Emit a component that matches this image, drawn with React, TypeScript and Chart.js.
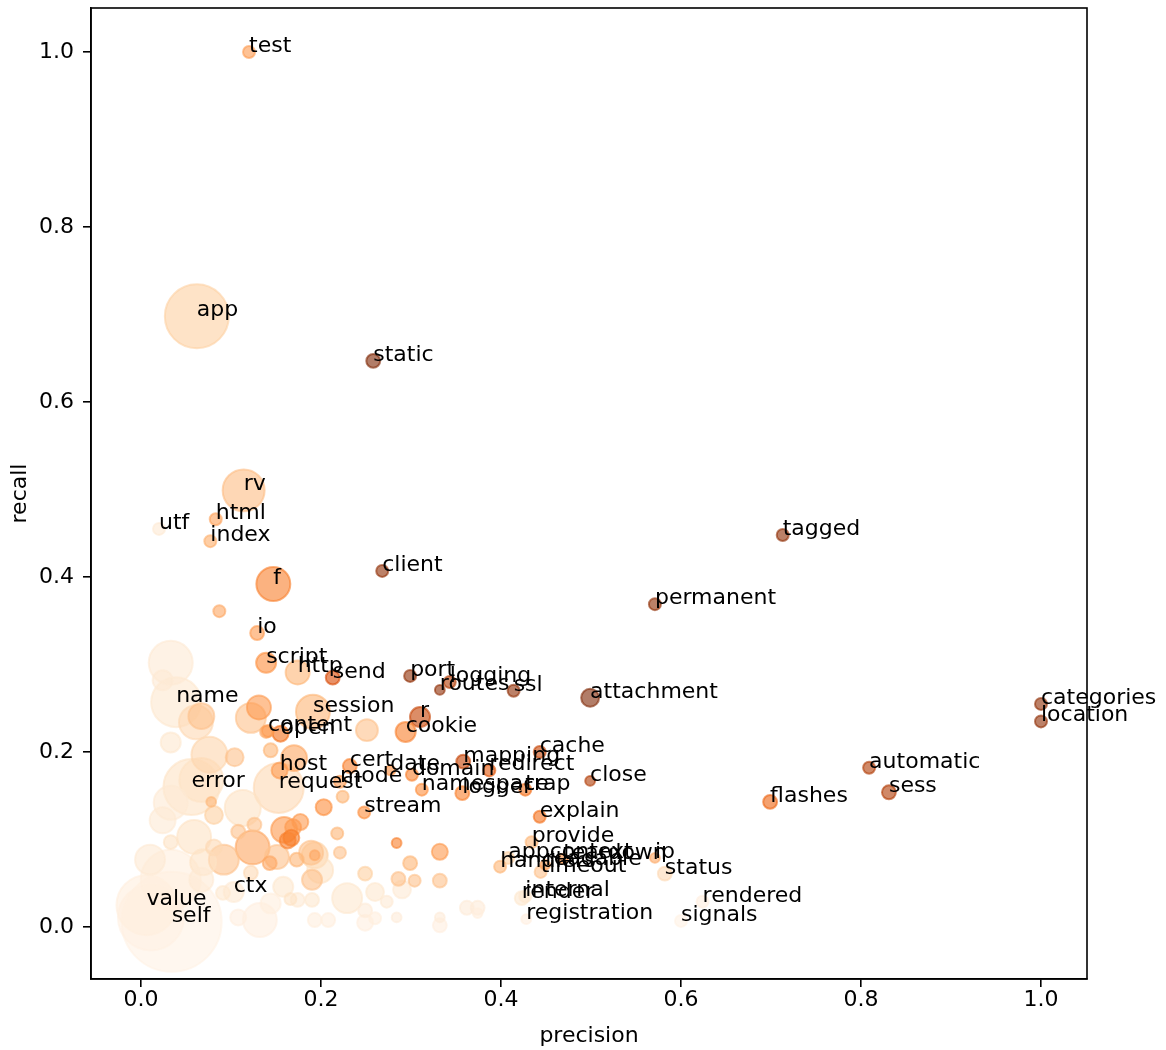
import React, { useEffect, useRef } from "react";
import { Chart, registerables, BubbleController } from "chart.js";

Chart.register(...registerables);
// keep the plot frame where the reference puts it (no automatic padding for big bubbles)
(BubbleController.prototype as any).getMaxOverflow = () => 0;

// ---- labelled words ----
const words = [
  "test", "app", "static", "rv", "utf", "html", "index", "f", "client", "io",
  "tagged", "permanent", "attachment", "categories", "location", "automatic", "sess", "flashes", "close", "cache",
  "mapping", "redirect", "trap", "logger", "namespace", "domain", "date", "cert", "mode", "host",
  "request", "error", "name", "script", "http", "send", "port", "logging", "routes", "ssl",
  "session", "content", "open", "r", "cookie", "stream", "explain", "provide", "appcontext", "handlers",
  "teardown", "readable", "ip", "timeout", "status", "render", "internal", "registration", "rendered", "signals",
  "ctx", "value", "self",
];
const wordPrecision = [
  0.120, 0.062, 0.258, 0.114, 0.020, 0.083, 0.077, 0.147, 0.268, 0.129,
  0.713, 0.571, 0.499, 1.0, 1.0, 0.809, 0.831, 0.699, 0.499, 0.443,
  0.358, 0.387, 0.427, 0.357, 0.312, 0.301, 0.277, 0.232, 0.221, 0.154,
  0.153, 0.056, 0.039, 0.139, 0.174, 0.213, 0.299, 0.343, 0.332, 0.414,
  0.191, 0.141, 0.155, 0.310, 0.294, 0.248, 0.443, 0.434, 0.408, 0.399,
  0.469, 0.449, 0.571, 0.444, 0.582, 0.423, 0.427, 0.428, 0.624, 0.600,
  0.103, 0.006, 0.034,
];
const wordRecall = [
  1.000, 0.698, 0.647, 0.499, 0.455, 0.466, 0.441, 0.392, 0.407, 0.336,
  0.448, 0.369, 0.262, 0.255, 0.235, 0.182, 0.154, 0.143, 0.167, 0.200,
  0.189, 0.179, 0.157, 0.153, 0.157, 0.174, 0.179, 0.184, 0.166, 0.179,
  0.159, 0.160, 0.257, 0.302, 0.291, 0.285, 0.287, 0.280, 0.271, 0.270,
  0.246, 0.224, 0.221, 0.240, 0.223, 0.131, 0.126, 0.097, 0.079, 0.069,
  0.078, 0.071, 0.079, 0.063, 0.061, 0.033, 0.035, 0.009, 0.029, 0.007,
  0.040, 0.025, 0.006,
];
const wordCount = [
  9, 256, 12, 110, 9, 9, 9, 72, 9, 12,
  9, 9, 20, 9, 9, 9, 12, 12, 6, 9,
  12, 9, 9, 12, 9, 9, 6, 12, 9, 16,
  156, 196, 156, 25, 36, 12, 9, 9, 6, 9,
  72, 9, 16, 25, 25, 9, 9, 9, 9, 9,
  6, 6, 6, 9, 12, 12, 9, 6, 9, 9,
  25, 225, 625,
];
const wordScore = [
  0.45, 0.25, 1.0, 0.32, 0.1, 0.42, 0.38, 0.55, 0.95, 0.45,
  0.95, 0.95, 1.0, 0.95, 0.95, 0.85, 0.85, 0.65, 0.85, 0.8,
  0.8, 0.7, 0.6, 0.55, 0.5, 0.55, 0.5, 0.55, 0.45, 0.45,
  0.2, 0.15, 0.12, 0.5, 0.35, 0.75, 0.95, 0.85, 0.95, 0.95,
  0.35, 0.45, 0.6, 0.8, 0.55, 0.5, 0.6, 0.35, 0.25, 0.35,
  0.5, 0.45, 0.4, 0.3, 0.2, 0.12, 0.12, 0.05, 0.05, 0.03,
  0.1, 0.06, 0.03,
];

// ---- unlabelled words ----
const otherPrecision = [
  0.087, 0.033, 0.024, 0.067, 0.061, 0.033, 0.076, 0.104, 0.067, 0.033,
  0.113, 0.081, 0.078, 0.131, 0.122, 0.139, 0.144, 0.170, 0.203, 0.224,
  0.218, 0.251, 0.284, 0.332, 0.221, 0.299, 0.249, 0.286, 0.304, 0.332,
  0.290, 0.229, 0.260, 0.273, 0.190, 0.158, 0.166, 0.249, 0.249, 0.260,
  0.284, 0.332, 0.332, 0.362, 0.374, 0.374, 0.208, 0.193, 0.132, 0.124,
  0.163, 0.169, 0.193, 0.193, 0.199, 0.190, 0.143, 0.173, 0.151, 0.033,
  0.059, 0.092, 0.108, 0.126, 0.159, 0.167, 0.189, 0.091, 0.069, 0.081,
  0.067, 0.122, 0.174, 0.144, 0.108, 0.033, 0.011, 0.010, 0.024, 0.177,
];
const otherRecall = [
  0.361, 0.302, 0.282, 0.241, 0.234, 0.211, 0.197, 0.194, 0.168, 0.142,
  0.136, 0.128, 0.143, 0.251, 0.239, 0.223, 0.202, 0.193, 0.137, 0.149,
  0.107, 0.225, 0.096, 0.086, 0.085, 0.073, 0.061, 0.055, 0.053, 0.053,
  0.043, 0.033, 0.040, 0.029, 0.031, 0.046, 0.032, 0.019, 0.005, 0.010,
  0.011, 0.011, 0.002, 0.022, 0.022, 0.016, 0.008, 0.008, 0.008, 0.091,
  0.099, 0.114, 0.082, 0.082, 0.065, 0.054, 0.073, 0.077, 0.080, 0.097,
  0.103, 0.077, 0.109, 0.117, 0.111, 0.102, 0.085, 0.039, 0.074, 0.091,
  0.054, 0.062, 0.031, 0.027, 0.011, 0.054, 0.011, 0.077, 0.122, 0.120,
];
const otherCount = [
  9, 121, 25, 42, 72, 25, 81, 20, 121, 72,
  81, 20, 6, 36, 56, 9, 12, 42, 16, 9,
  9, 30, 6, 16, 9, 12, 12, 12, 9, 12,
  20, 56, 20, 9, 12, 25, 9, 12, 16, 9,
  6, 6, 12, 12, 12, 6, 12, 12, 72, 72,
  16, 16, 42, 6, 42, 25, 12, 12, 36, 12,
  72, 56, 12, 12, 42, 16, 36, 12, 42, 16,
  36, 12, 12, 25, 16, 225, 272, 56, 42, 16,
];
const otherScore = [
  0.4, 0.1, 0.1, 0.3, 0.2, 0.12, 0.22, 0.3, 0.15, 0.1,
  0.15, 0.25, 0.35, 0.45, 0.3, 0.4, 0.35, 0.4, 0.5, 0.35,
  0.35, 0.3, 0.55, 0.45, 0.3, 0.35, 0.25, 0.3, 0.3, 0.3,
  0.1, 0.12, 0.12, 0.1, 0.12, 0.12, 0.15, 0.08, 0.05, 0.06,
  0.08, 0.08, 0.05, 0.08, 0.08, 0.06, 0.06, 0.06, 0.05, 0.4,
  0.55, 0.45, 0.25, 0.4, 0.15, 0.3, 0.4, 0.35, 0.3, 0.15,
  0.15, 0.3, 0.3, 0.3, 0.45, 0.55, 0.3, 0.12, 0.15, 0.2,
  0.1, 0.2, 0.1, 0.06, 0.05, 0.06, 0.04, 0.1, 0.1, 0.45,
];

const xTicks = [0.0, 0.2, 0.4, 0.6, 0.8, 1.0];
const yTicks = [0.0, 0.2, 0.4, 0.6, 0.8, 1.0];

const ORANGES = [
  [255, 245, 235], [254, 230, 206], [253, 208, 162], [253, 174, 107], [253, 141, 60],
  [241, 105, 19], [217, 72, 1], [166, 54, 3], [127, 39, 4],
];
function oranges(t: number, a: number) {
  const v = Math.max(0, Math.min(1, t)) * (ORANGES.length - 1);
  const i = Math.min(Math.floor(v), ORANGES.length - 2);
  const f = v - i;
  const c = ORANGES[i].map((ch, k) => Math.round(ch + (ORANGES[i + 1][k] - ch) * f));
  return `rgba(${c[0]},${c[1]},${c[2]},${a})`;
}

const FONT = '"DejaVu Sans", sans-serif';

export default function App() {
  const ref = useRef<HTMLCanvasElement>(null);
  useEffect(() => {
    document.body.style.margin = "0";
    type P = { x: number; y: number; r: number; s: number; label: string };
    const pts: P[] = [];
    otherPrecision.forEach((p, i) =>
      pts.push({ x: p, y: otherRecall[i], r: Math.sqrt(otherCount[i]) * 2, s: otherScore[i], label: "" })
    );
    words.forEach((w, i) =>
      pts.push({ x: wordPrecision[i], y: wordRecall[i], r: Math.sqrt(wordCount[i]) * 2, s: wordScore[i], label: w })
    );
    pts.sort((a, b) => b.r - a.r);

    const labelPlugin = {
      id: "wordLabels",
      afterDatasetsDraw(chart: any) {
        const ctx = chart.ctx;
        const a = chart.chartArea;
        ctx.save();
        ctx.lineWidth = 1.6;
        ctx.strokeStyle = "#000";
        ctx.strokeRect(a.left, a.top, a.right - a.left, a.bottom - a.top);
        ctx.font = `22px ${FONT}`;
        ctx.fillStyle = "#000";
        ctx.textAlign = "left";
        ctx.textBaseline = "alphabetic";
        const meta = chart.getDatasetMeta(0);
        meta.data.forEach((el: any, i: number) => {
          const d = chart.data.datasets[0].data[i] as P;
          if (d.label) ctx.fillText(d.label, el.x, el.y);
        });
        ctx.restore();
      },
    };

    const tickFont = { family: FONT, size: 22 };
    const chart = new Chart(ref.current!, {
      type: "bubble",
      data: {
        datasets: [
          {
            data: pts as any,
            backgroundColor: (c: any) => oranges((c.raw as P)?.s ?? 0, 0.6),
            borderColor: (c: any) => oranges((c.raw as P)?.s ?? 0, 0.6),
            borderWidth: 2,
            clip: 0 as any,
          },
        ],
      },
      options: {
        animation: false,
        responsive: false,
        devicePixelRatio: 1,
        layout: { padding: { left: 0, top: 8, right: 79, bottom: 0 } },
        plugins: { legend: { display: false }, tooltip: { enabled: false } },
        events: [],
        scales: {
          x: {
            type: "linear",
            position: "bottom",
            min: -0.0556,
            max: 1.0511,
            afterBuildTicks: (s: any) => {
              s.ticks = xTicks.map((v) => ({ value: v }));
            },
            afterFit: (s: any) => {
              s.height = 71;
              s.paddingLeft = 0;
              s.paddingRight = 0;
            },
            ticks: {
              callback: (v: any) => Number(v).toFixed(1),
              font: tickFont,
              color: "#000",
              padding: 0,
              maxRotation: 0,
            },
            grid: { drawOnChartArea: false, drawTicks: true, tickLength: 8, color: "#000", lineWidth: 1.6 },
            border: { display: true, color: "#000", width: 1.6 },
            title: { display: true, text: "precision", font: tickFont, color: "#000", padding: { top: 0, bottom: 1 } },
          },
          y: {
            type: "linear",
            position: "left",
            min: -0.0594,
            max: 1.0503,
            afterBuildTicks: (s: any) => {
              s.ticks = yTicks.map((v) => ({ value: v }));
            },
            afterFit: (s: any) => {
              s.width = 91;
              s.paddingTop = 0;
              s.paddingBottom = 0;
            },
            ticks: {
              callback: (v: any) => Number(v).toFixed(1),
              font: tickFont,
              color: "#000",
              padding: 9,
            },
            grid: { drawOnChartArea: false, drawTicks: true, tickLength: 8, color: "#000", lineWidth: 1.6 },
            border: { display: true, color: "#000", width: 1.6 },
            title: { display: true, text: "recall", font: tickFont, color: "#000", padding: { top: 7, bottom: 0 } },
          },
        },
      },
      plugins: [labelPlugin],
    });
    return () => chart.destroy();
  }, []);
  return (
    <canvas
      ref={ref}
      width={1166}
      height={1050}
      style={{ display: "block", width: 1166, height: 1050 }}
    />
  );
}
